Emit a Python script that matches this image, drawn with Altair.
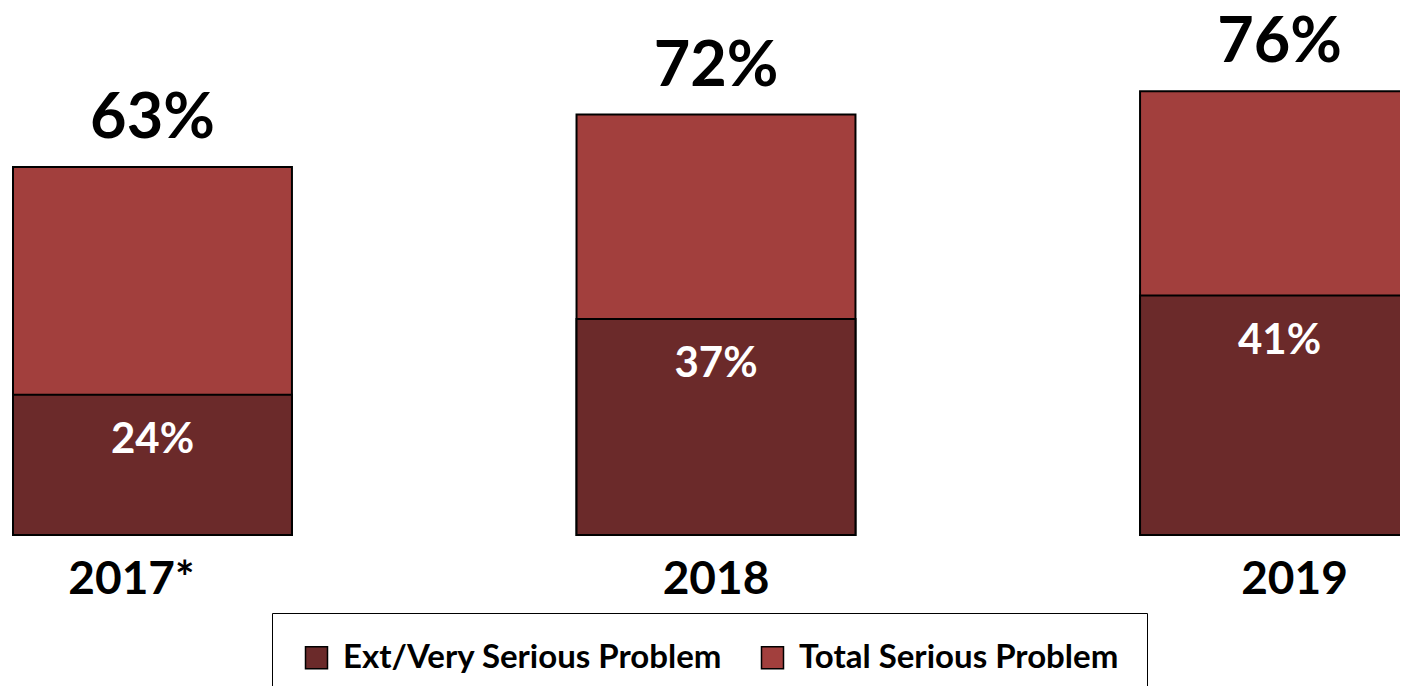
import altair as alt
import pandas as pd

years = ["2017*", "2018", "2019"]
ext_very = [24, 37, 41]
total_serious = [63, 72, 76]
series_names = ["Ext/Very Serious Problem", "Total Serious Problem"]
colors = ["#6B2A2A", "#A23F3D"]

rows = []
for y, t in zip(years, total_serious):
    rows.append({"year": y, "series": series_names[1], "value": t})
for y, e in zip(years, ext_very):
    rows.append({"year": y, "series": series_names[0], "value": e})
df = pd.DataFrame(rows)
df["label"] = df["value"].astype(str) + "%"

FONT = "Lato"

x_enc = alt.X(
    "year:N",
    sort=years,
    scale=alt.Scale(range=[5, 1411], paddingInner=0.505, paddingOuter=0),
    axis=alt.Axis(
        title=None,
        domain=False,
        ticks=False,
        tickSize=0,
        labelAngle=0,
        labelFont=FONT,
        labelFontSize=46,
        labelFontWeight="bold",
        labelColor="black",
        labelPadding=58,
        labelBaseline="alphabetic",
        labelFlush=False,
        labelOverlap=False,
        labelBound=False,
        labelOffset={
            "condition": [
                {"test": "datum.value === '2017*'", "value": -21},
                {"test": "datum.value === '2019'", "value": 15},
            ],
            "value": 0,
        },
    ),
)
y_scale = alt.Scale(domain=[0, 90.24], nice=False, zero=True)
y_enc = alt.Y("value:Q", scale=y_scale, axis=None)
color_enc = alt.Color(
    "series:N",
    scale=alt.Scale(domain=series_names, range=colors),
    legend=alt.Legend(
        title=None,
        orient="none",
        legendX=264,
        legendY=605,
        direction="horizontal",
        strokeColor="black",
        padding=28,
        columnPadding=33,
        symbolType="square",
        symbolSize=484,
        symbolStrokeColor="black",
        symbolStrokeWidth=1.5,
        symbolOpacity=1,
        labelFont=FONT,
        labelFontSize=33,
        labelFontWeight="bold",
        labelColor="black",
        labelOffset=10,
        labelLimit=0,
    ),
)

base = alt.Chart(df)

total_bars = base.transform_filter(
    alt.datum.series == series_names[1]
).mark_bar(stroke="black", strokeWidth=2, opacity=1).encode(
    x=x_enc, y=y_enc, color=color_enc
)
ext_bars = base.transform_filter(
    alt.datum.series == series_names[0]
).mark_bar(stroke="black", strokeWidth=2, opacity=1).encode(
    x=x_enc, y=y_enc, color=color_enc
)
total_text = base.transform_filter(
    alt.datum.series == series_names[1]
).mark_text(
    font=FONT, fontSize=63, fontWeight="bold", color="black",
    baseline="alphabetic", align="center", dy=-29
).encode(x=x_enc, y=y_enc, text="label:N")
ext_text = base.transform_filter(
    alt.datum.series == series_names[0]
).mark_text(
    font=FONT, fontSize=42, fontWeight="bold", color="white",
    baseline="alphabetic", align="center", dy=58
).encode(x=x_enc, y=y_enc, text="label:N")

chart = alt.layer(total_bars, ext_bars, total_text, ext_text).properties(
    width=1392,
    height=527,
    autosize=alt.AutoSizeParams(type="none"),
    padding={"left": 0, "top": 0, "right": 0, "bottom": 151},
    background="white",
).configure_view(stroke=None)

chart.save("out.html", embed_options={"renderer": "svg", "actions": False})
